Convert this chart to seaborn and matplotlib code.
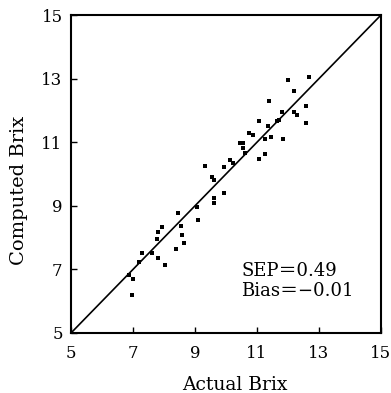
import matplotlib
matplotlib.use("Agg")
import matplotlib.pyplot as plt
import seaborn as sns
import pandas as pd

actual = [6.88, 7.01, 6.96, 7.20, 7.28, 7.60, 7.82, 8.03, 7.76, 7.82, 7.95,
          8.39, 8.46, 8.54, 8.59, 8.66, 9.05, 9.09, 9.32, 9.54, 9.61, 9.61,
          9.61, 9.94, 9.94, 10.13, 10.22, 10.45, 10.54, 10.54, 10.61, 10.75,
          10.86, 11.06, 11.06, 11.26, 11.26, 11.37, 11.39, 11.45, 11.66, 11.72,
          11.80, 11.85, 11.99, 12.19, 12.19, 12.30, 12.58, 12.58, 12.69]
computed = [6.82, 6.69, 6.19, 7.24, 7.51, 7.51, 7.35, 7.14, 7.95, 8.19, 8.34,
            7.63, 8.76, 8.36, 8.08, 7.84, 8.97, 8.55, 10.25, 9.92, 9.81, 9.23,
            9.08, 10.23, 9.39, 10.44, 10.36, 10.96, 10.99, 10.81, 10.65, 11.30,
            11.23, 11.68, 10.46, 10.63, 11.09, 11.51, 12.31, 11.17, 11.68, 11.70,
            11.96, 11.09, 12.96, 12.62, 11.96, 11.86, 12.14, 11.61, 13.04]
ticks = [5, 7, 9, 11, 13, 15]
x_label = "Actual Brix"
y_label = "Computed Brix"
stats_text = "SEP\uff1d0.49\nBias\uff1d\u22120.01"

plt.rcParams['font.family'] = ['DejaVu Serif', 'Noto Sans CJK JP']

df = pd.DataFrame({"actual": actual, "computed": computed})

fig = plt.figure(figsize=(3.91, 3.93), dpi=100)
ax = fig.add_axes([0.1816, 0.1527, 0.7928, 0.8091])
sns.scatterplot(data=df, x="actual", y="computed", ax=ax, color="black",
                marker="s", s=12, linewidth=0, legend=False)
ax.plot([5, 15], [5, 15], color="black", lw=1.2)
ax.set_xlim(5, 15)
ax.set_ylim(5, 15)
ax.set_xticks(ticks)
ax.set_yticks(ticks)
ax.set_xticklabels([str(t) for t in ticks])
ax.set_yticklabels([str(t) for t in ticks])
ax.tick_params(axis="both", direction="in", length=4, width=1, labelsize=12)
ax.tick_params(axis="x", pad=9)
ax.tick_params(axis="y", pad=6)
for sp in ax.spines.values():
    sp.set_linewidth(1.5)
    sp.set_color("black")
ax.set_xlabel(x_label, fontsize=13.5)
ax.set_ylabel(y_label, fontsize=14)
ax.xaxis.set_label_coords(0.53, -0.135)
ax.yaxis.set_label_coords(-0.14, 0.45)
ax.text(10.5, 6.63, stats_text, fontsize=13, ha="left", va="center",
        linespacing=1.15)
fig.savefig("out.png", dpi=100)
